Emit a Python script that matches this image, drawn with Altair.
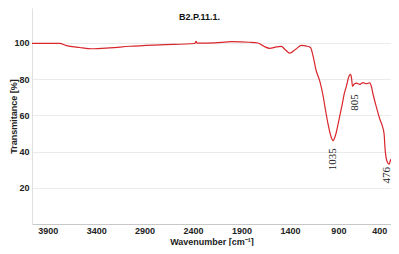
import altair as alt
import pandas as pd

# Spectrum (axis units as drawn)
wavenumber = [4062, 3776, 3714, 3570, 3446, 3260, 3053, 2744, 2382, 2369, 2357, 2176,
              2000, 1815, 1732, 1670, 1608, 1540, 1490, 1445, 1402, 1340, 1281, 1229,
              1188, 1161, 1133, 1092, 1061, 1040, 1006, 978, 955, 927, 893, 857, 841,
              816, 796, 775, 765, 754, 738, 713, 679, 645, 610, 576, 560, 542, 506,
              472, 445, 428, 418, 408, 393, 376, 366, 358]
transmittance = [99.7, 99.7, 98.6, 97.4, 96.7, 97.2, 98.1, 98.9, 99.6, 100.8, 99.8, 100.0,
                 100.6, 100.3, 99.9, 98.1, 96.9, 97.7, 98.0, 96.0, 94.3, 96.5, 98.6, 98.2,
                 97.4, 92.7, 85.4, 78.8, 71.6, 65.1, 55.0, 48.6, 46.0, 49.5, 57.8, 67.0, 71.6,
                 76.2, 80.8, 82.6, 80.8, 76.0, 77.1, 77.7, 77.1, 78.0, 77.4, 77.9, 76.0, 71.6, 64.2,
                 57.8, 53.9, 49.5, 41.3, 36.8, 33.9, 33.0, 34.6, 35.8]

peak_labels = ["1035", "805", "476"]
peak_x = [955, 731, 397]
peak_y = [35.7, 67.1, 26.9]

x_ticks = [3900, 3400, 2900, 2400, 1900, 1400, 900, 400]
y_ticks = [20, 40, 60, 80, 100]

spec = pd.DataFrame({"wn": wavenumber, "t": transmittance, "i": range(len(wavenumber))})
peaks = pd.DataFrame({"wn": peak_x, "t": peak_y, "label": peak_labels})

xscale = alt.Scale(domain=[357, 4062], reverse=True, nice=False, zero=False)
yscale = alt.Scale(domain=[0, 119.2], nice=False)

line = alt.Chart(spec).mark_line(color="#d8262b", strokeWidth=1.2, interpolate="monotone").encode(
    x=alt.X("wn:Q", scale=xscale,
            axis=alt.Axis(values=x_ticks, format="d", title="Wavenumber [cm⁻¹]", grid=False,
                          ticks=False, labelPadding=2, labelFlush=6,
                          titleY=22, titleBaseline="bottom",
                          domainColor="#c8c8c8", labelFont="Liberation Sans",
                          labelFontSize=9, labelFontWeight="bold", labelColor="#222",
                          titleFont="Liberation Sans", titleFontSize=9, titleFontWeight="bold",
                          titleColor="#222")),
    y=alt.Y("t:Q", scale=yscale,
            axis=alt.Axis(values=y_ticks, title="Transmitance [%]", grid=True, gridColor="#ebebeb",
                          ticks=False, labelPadding=3, labelFlush=False,
                          titleX=-19, titleY=108, titleAngle=270, titleAlign="center",
                          titleBaseline="middle",
                          domainColor="#e0e0e0", labelFont="Liberation Sans",
                          labelFontSize=9, labelFontWeight="bold", labelColor="#222",
                          titleFont="Liberation Sans", titleFontSize=9, titleFontWeight="bold",
                          titleColor="#222")),
    order="i:Q",
)

text = alt.Chart(peaks).mark_text(angle=270, font="Liberation Serif", fontSize=11,
                                   color="#222", align="center", baseline="middle").encode(
    x=alt.X("wn:Q", scale=xscale),
    y=alt.Y("t:Q", scale=yscale),
    text="label:N",
)

chart = alt.layer(line, text).properties(
    width=359, height=216,
    title=alt.TitleParams("B2.P.11.1.", font="Liberation Sans", fontSize=9, fontWeight="bold",
                          color="#111", anchor="middle", frame="group", dx=-12, dy=18),
    autosize=alt.AutoSizeParams(type="none"),
    padding={"left": 24, "top": 0, "right": 0, "bottom": 22},
).configure_view(stroke=None)

chart.save("out.html", embed_options={"renderer": "svg", "actions": False})
